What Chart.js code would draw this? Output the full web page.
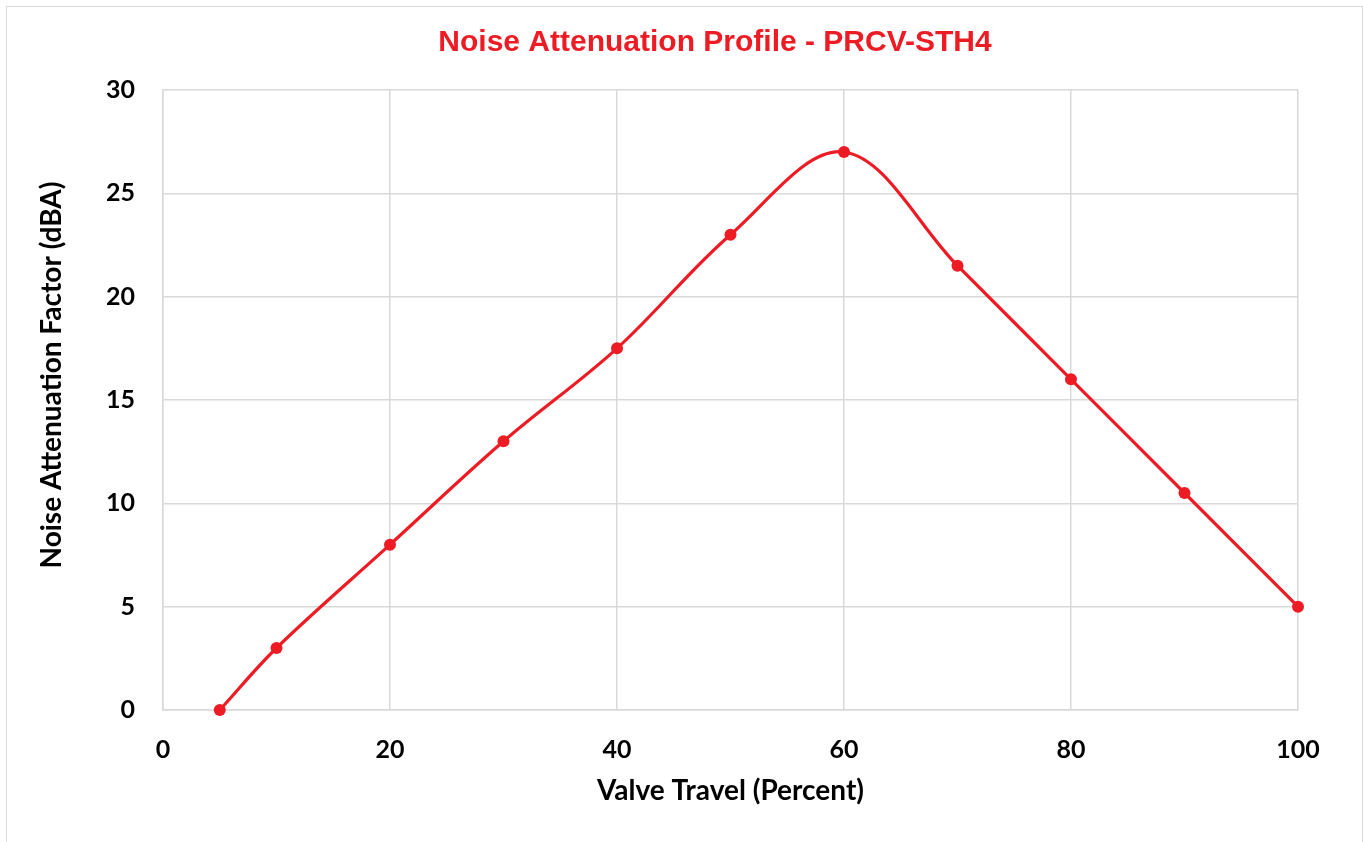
<!DOCTYPE html>
<html>
<head>
<meta charset="utf-8">
<script src="https://cdn.jsdelivr.net/npm/chart.js@4.4.1/dist/chart.umd.min.js"></script>
<style>
  html, body { margin: 0; padding: 0; background: #fff; overflow: hidden; }
  #frame { position: absolute; left: 6px; top: 6px; width: 1355px; height: 860px; border: 1.5px solid #d9d9d9; pointer-events: none; }
  canvas { position: absolute; left: 0; top: 0; }
</style>
</head>
<body>
<canvas id="chart" width="1363" height="842"></canvas>
<div id="frame"></div>
<script>
'use strict';

// values
const valveTravel = [5, 10, 20, 30, 40, 50, 60, 70, 80, 90, 100];
const attenuation = [0, 3, 8, 13, 17.5, 23, 27, 21.5, 16, 10.5, 5];
const chartTitle = 'Noise Attenuation Profile - PRCV-STH4';
const xTitle = 'Valve Travel (Percent)';
const yTitle = 'Noise Attenuation Factor (dBA)';

const red = '#ed1c24';
const gridGray = '#d9d9d9';
const tickFont = { family: 'Lato', size: 25, weight: 'bold' };
const axisTitleFont = { family: 'Lato', size: 28, weight: 'bold' };

// chart title and y title sit a little off-centre in the reference, so draw them here
const titlePlugin = {
  id: 'titles',
  afterDraw(chart) {
    const ctx = chart.ctx;
    ctx.save();
    ctx.font = 'bold 30px "Liberation Sans", Arial, sans-serif';
    ctx.fillStyle = red;
    ctx.textAlign = 'center';
    ctx.textBaseline = 'middle';
    ctx.fillText(chartTitle, 715, 43);

    ctx.font = 'bold 28px Lato';
    ctx.fillStyle = '#000';
    ctx.translate(52, 375);
    ctx.rotate(-Math.PI / 2);
    ctx.fillText(yTitle, 0, 0);
    ctx.restore();
  }
};

let points = valveTravel.map((x, i) => ({ x: x, y: attenuation[i] }));

let ctx = document.getElementById('chart');
let myChart = new Chart(ctx, {
  type: 'line',
  data: {
    datasets: [{
      data: points,
      borderColor: red,
      backgroundColor: red,
      borderWidth: 3.2,
      pointRadius: 6,
      pointBackgroundColor: red,
      pointBorderWidth: 0,
      tension: 0.35,
      clip: false,
      fill: false
    }]
  },
  options: {
    responsive: false,
    animation: false,
    layout: { padding: { top: 90, right: 65, left: 0, bottom: 0 } },
    plugins: {
      legend: { display: false },
      tooltip: { enabled: false },
      title: { display: false }
    },
    scales: {
      x: {
        type: 'linear',
        min: 0,
        max: 100,
        ticks: { stepSize: 20, color: '#000', font: tickFont, padding: 25 },
        grid: { color: gridGray, lineWidth: 1.5, drawTicks: false },
        border: { color: gridGray, width: 1.5 },
        title: { display: true, text: xTitle, color: '#000', font: axisTitleFont, padding: { top: 0, bottom: 34 } },
        afterFit(scale) { scale.height = 132; }
      },
      y: {
        min: 0,
        max: 30,
        ticks: { stepSize: 5, color: '#000', font: tickFont, padding: 28 },
        grid: { color: gridGray, lineWidth: 1.5, drawTicks: false },
        border: { color: gridGray, width: 1.5 },
        title: { display: false },
        afterFit(scale) { scale.width = 163; }
      }
    }
  },
  plugins: [titlePlugin]
});
</script>
</body>
</html>
